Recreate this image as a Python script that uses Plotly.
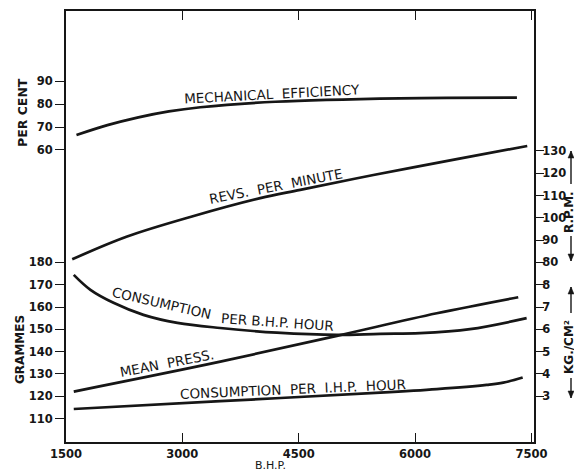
import plotly.graph_objects as go

# ---------------- data ----------------
BHP_MECH = [1635, 2034, 2433, 2826, 3232, 4198, 5807, 7313]
MECH_EFF = [66.5, 70.8, 74.2, 76.8, 78.6, 81.0, 82.5, 82.8]  # per cent

BHP_RPM = [1580, 2288, 3146, 4004, 4519, 5463, 6537, 7446]
RPM = [81.4, 91.6, 100.8, 108.8, 112.5, 119.2, 126.3, 132.2]  # r.p.m.

BHP_CB = [1600, 1815, 2112, 2498, 2936, 3489, 4219, 4992, 5549, 6064, 6708, 7438]
CONS_BHP = [174.4, 167.7, 161.9, 156.5, 152.9, 150.6, 148.5, 147.5, 148.0, 148.3, 150.1, 155.0]  # grammes

BHP_MP = [1600, 3489, 4992, 6280, 7330]
MEAN_PRESS = [3.21, 4.55, 5.71, 6.72, 7.44]               # kg/cm2

BHP_CI = [1600, 3489, 5549, 6280, 6923, 7137, 7387]
CONS_IHP = [114.3, 117.8, 121.6, 123.2, 125.1, 126.1, 128.4]  # grammes

X_TICKS = [1500, 3000, 4500, 6000, 7500]
PCT_TICKS = [60, 70, 80, 90]
GR_TICKS = [110, 120, 130, 140, 150, 160, 170, 180]
RPM_TICKS = [80, 90, 100, 110, 120, 130]
KG_TICKS = [3, 4, 5, 6, 7, 8]

# ---------------- shared vertical scale (grammes units) ----------------
def pct_to_y(p):
    return 230.4 + (p - 60) * 1.03

def rpm_to_y(r):
    return r + 100

def kg_to_y(k):
    return 10 * k + 90

YR = [99.5, 292.7]
XR = [1500, 7533]
INK = "#161616"
FONT = "DejaVu Sans"

fig = go.Figure()
line = dict(color=INK, width=2.7, shape="spline", smoothing=1.0)
fig.add_trace(go.Scatter(x=BHP_MECH, y=[pct_to_y(v) for v in MECH_EFF], mode="lines", line=line))
fig.add_trace(go.Scatter(x=BHP_RPM, y=[rpm_to_y(v) for v in RPM], mode="lines", line=line))
fig.add_trace(go.Scatter(x=BHP_CB, y=CONS_BHP, mode="lines", line=line))
fig.add_trace(go.Scatter(x=BHP_MP, y=[kg_to_y(v) for v in MEAN_PRESS], mode="lines", line=line))
fig.add_trace(go.Scatter(x=BHP_CI, y=CONS_IHP, mode="lines", line=line))
# invisible trace to activate the right axis
fig.add_trace(go.Scatter(x=[XR[0]], y=[YR[0]], yaxis="y2", mode="markers",
                         marker=dict(opacity=0), hoverinfo="skip"))

left_vals = GR_TICKS + [pct_to_y(p) for p in PCT_TICKS]
left_text = [str(v) for v in GR_TICKS] + [str(p) for p in PCT_TICKS]
right_vals = [kg_to_y(k) for k in KG_TICKS] + [rpm_to_y(r) for r in RPM_TICKS]
right_text = [str(k) for k in KG_TICKS] + [str(r) for r in RPM_TICKS]

tickfont = dict(family=FONT, size=11.5, color=INK, weight="bold")

# the page body adds an 8px offset; the figure is sized so the plot area
# lands at page pixels x 66..534, y 11..442
OFF = 8
fig.update_layout(
    width=582 - OFF, height=473 - OFF,
    margin=dict(l=66 - OFF, r=48, t=11 - OFF, b=31, autoexpand=False),
    paper_bgcolor="white", plot_bgcolor="white",
    showlegend=False,
    xaxis=dict(range=XR, tickvals=X_TICKS, ticktext=[str(v) for v in X_TICKS],
               ticks="inside", ticklen=9, tickwidth=1.3, tickcolor=INK,
               showline=True, linecolor=INK, linewidth=2, mirror="ticks",
               showgrid=False, zeroline=False, tickfont=tickfont),
    yaxis=dict(range=YR, tickvals=left_vals, ticktext=left_text,
               ticks="outside", ticklen=9, tickwidth=1.3, tickcolor=INK,
               showline=True, linecolor=INK, linewidth=2,
               showgrid=False, zeroline=False, tickfont=tickfont),
    yaxis2=dict(range=YR, overlaying="y", side="right", tickvals=right_vals, ticktext=right_text,
                ticks="outside", ticklen=8, tickwidth=1.3, tickcolor=INK,
                showline=True, linecolor=INK, linewidth=2, ticklabelstandoff=-4,
                showgrid=False, zeroline=False, tickfont=tickfont),
)

lab = dict(family=FONT, size=13.5, color=INK)

def curve_label(text, x, y, angle):
    fig.add_annotation(x=x, y=y, xref="x", yref="y", text=text, showarrow=False,
                       textangle=angle, font=lab, xanchor="center", yanchor="middle")

curve_label("MECHANICAL  EFFICIENCY", 4158, 255.5, -3)
curve_label("REVS.  PER  MINUTE", 4209, 214.3, -11)
curve_label("CONSUMPTION", 2729, 161.8, 13)
curve_label("PER B.H.P. HOUR", 4222, 153.3, 4)
curve_label("MEAN  PRESS.", 2806, 135.0, -11)
curve_label("CONSUMPTION  PER  I.H.P.  HOUR", 4428, 123.3, -2.5)

PW, PH, L, T = 468.0, 431.0, 66.0, 11.0

def px(xp):
    return (xp - L) / PW

def py(yp):
    return (T + PH - yp) / PH

def paper_text(text, xp, yp, angle=0, size=13, weight="normal"):
    fig.add_annotation(x=px(xp), y=py(yp), xref="paper", yref="paper", text=text,
                       showarrow=False, textangle=angle, xanchor="center", yanchor="middle",
                       font=dict(family=FONT, size=size, color=INK, weight=weight))

def arrow(xp, y_tail, y_head):
    fig.add_shape(type="line", xref="paper", yref="paper",
                  x0=px(xp), x1=px(xp), y0=py(y_tail), y1=py(y_head),
                  line=dict(color=INK, width=1.4))
    d = 1 if y_head > y_tail else -1
    path = "M {a},{b} L {c},{e} L {f},{e} Z".format(
        a=px(xp), b=py(y_head), c=px(xp - 3), f=px(xp + 3), e=py(y_head - 7 * d))
    fig.add_shape(type="path", xref="paper", yref="paper", path=path,
                  fillcolor=INK, line=dict(color=INK, width=0.5))

paper_text("PER CENT", 23, 113, -90, 12.5, "bold")
paper_text("GRAMMES", 20, 350, -90, 12, "bold")
paper_text("B.H.P.", 270, 466, 0, 11)
paper_text("R.P.M.", 569, 212, -90, 12, "bold")
paper_text("KG./CM²", 569, 347, -90, 12, "bold")
arrow(571, 184, 151)
arrow(571, 236, 261)
arrow(571, 313, 287)
arrow(571, 378, 398)

fig.write_html("out.html")
